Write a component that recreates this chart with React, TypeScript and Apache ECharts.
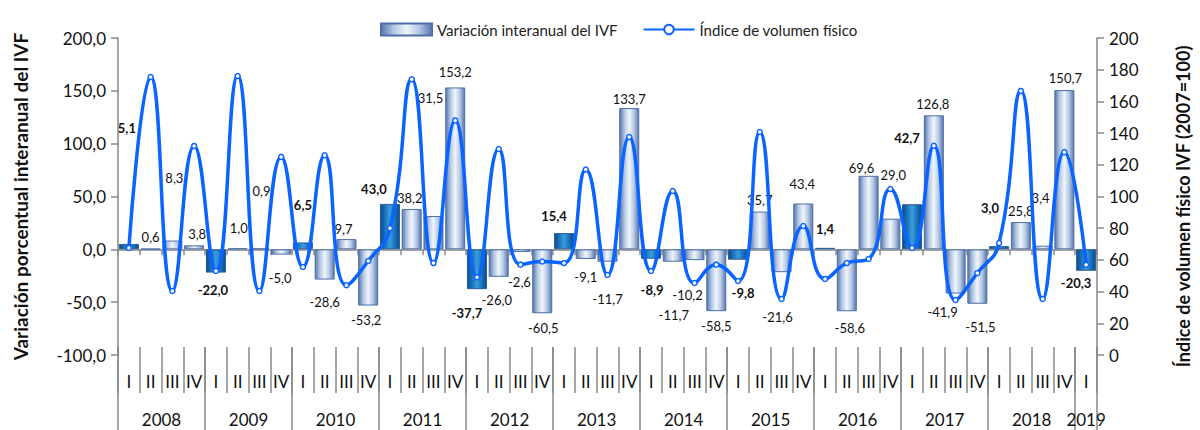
import React, { useEffect, useRef } from "react";
import * as echarts from "echarts";

const quarters = [
  "I", "II", "III", "IV", "I", "II", "III", "IV", "I", "II", "III", "IV",
  "I", "II", "III", "IV", "I", "II", "III", "IV", "I", "II", "III", "IV",
  "I", "II", "III", "IV", "I", "II", "III", "IV", "I", "II", "III", "IV",
  "I", "II", "III", "IV", "I", "II", "III", "IV", "I",
];

const years = ["2008", "2009", "2010", "2011", "2012", "2013", "2014", "2015", "2016", "2017", "2018", "2019"];
const quartersPerYear = [4, 4, 4, 4, 4, 4, 4, 4, 4, 4, 4, 1];

// Variación interanual del IVF (%)
const ivfChange = [
  5.1, 0.6, 8.3, 3.8,
  -22.0, 1.0, 0.9, -5.0,
  6.5, -28.6, 9.7, -53.2,
  43.0, 38.2, 31.5, 153.2,
  -37.7, -26.0, -2.6, -60.5,
  15.4, -9.1, -11.7, 133.7,
  -8.9, -11.7, -10.2, -58.5,
  -9.8, 35.7, -21.6, 43.4,
  1.4, -58.6, 69.6, 29.0,
  42.7, 126.8, -41.9, -51.5,
  3.0, 25.8, 3.4, 150.7,
  -20.3,
];

// Índice de volumen físico (2007=100)
const ivfIndex = [
  67.5, 175.4, 40.4, 131.9,
  53.0, 176.0, 40.4, 125.0,
  55.5, 126.0, 44.0, 59.3,
  80.0, 174.0, 58.0, 148.0,
  49.0, 130.0, 57.0, 59.0,
  58.0, 117.0, 50.5, 137.5,
  53.0, 103.5, 45.4, 57.0,
  46.7, 140.7, 35.3, 81.4,
  48.0, 58.0, 60.6, 104.7,
  67.5, 132.0, 34.7, 51.7,
  70.7, 166.6, 35.3, 128.0,
  57.0,
];

// label nudges (px) relative to the default top/bottom label place
const labelOffsets = [
  [-2, -104], [0, 0], [2, -51], [3, 0],
  [-3, 6], [1, -9], [2, -46], [-1, 12],
  [0, -26], [0, 11], [-3, 1], [-2, 3],
  [-16, -3], [-2, 1], [-3, -107], [0, -4],
  [-10, 12], [-2, 12], [-1, 18], [1, 3],
  [-10, -6], [0, 7], [0, 26], [0, 2],
  [1, 20], [1, 42], [-7, 23], [0, 3],
  [5, 22], [0, 0], [-4, 33], [-1, -8],
  [0, -7], [3, 5], [-7, 4], [3, -32],
  [-5, -55], [-1, 0], [-13, 7], [3, 12],
  [-9, -27], [0, 0], [-2, -36], [1, -1],
  [-10, 1],
];

const FONT = "Lato, 'Open Sans', sans-serif";
const fmt = (v: number) => v.toFixed(1).replace(".", ",");

export default function App() {
  const ref = useRef<HTMLDivElement>(null);

  useEffect(() => {
    if (!ref.current) return;
    const chart = echarts.init(ref.current, null, { renderer: "svg" });

    const normalBar = new echarts.graphic.LinearGradient(0, 0, 1, 0, [
      { offset: 0, color: "#5676ad" },
      { offset: 0.25, color: "#b3c7e3" },
      { offset: 0.5, color: "#f0f5fb" },
      { offset: 0.75, color: "#b3c7e3" },
      { offset: 1, color: "#5676ad" },
    ]);
    const q1Bar = new echarts.graphic.LinearGradient(0, 0, 1, 0, [
      { offset: 0, color: "#0b4a8e" },
      { offset: 0.3, color: "#1f7cc4" },
      { offset: 0.5, color: "#3c9ddc" },
      { offset: 0.7, color: "#1f7cc4" },
      { offset: 1, color: "#0b4a8e" },
    ]);

    const barData = ivfChange.map((v, i) => {
      const q1 = i % 4 === 0;
      const off = labelOffsets[i];
      return {
        value: v,
        itemStyle: q1 ? { color: q1Bar, borderColor: "#2a5d9a" } : undefined,
        label: {
          position: v >= 0 ? "top" : "bottom",
          offset: [off[0], off[1]],
          fontWeight: q1 ? "bold" : "normal",
        },
      };
    });

    // year axis: half-quarter positions, boundaryGap false
    const totalHalf = quarters.length * 2;
    const yearAxisData: string[] = new Array(totalHalf + 1).fill("");
    const yearBounds: number[] = [0];
    let pos = 0;
    years.forEach((y, k) => {
      const n = quartersPerYear[k];
      yearAxisData[pos * 2 + n] = y;
      pos += n;
      yearBounds.push(pos * 2);
    });

    chart.setOption({
      animation: false,
      textStyle: { fontFamily: FONT },
      legend: {
        left: 375,
        top: 17,
        itemWidth: 51,
        itemHeight: 12,
        itemGap: 25,
        textStyle: { fontFamily: FONT, fontSize: 15, color: "#222" },
        data: [
          { name: "Variación interanual del IVF", icon: "rect" },
          { name: "Índice de volumen físico" },
        ],
      },
      grid: { left: 118, right: 95, top: 38, bottom: 75, containLabel: false },
      xAxis: [
        {
          type: "category",
          data: quarters,
          position: "bottom",
          axisLine: { show: true, onZero: true, onZeroAxisIndex: 0, lineStyle: { color: "#888", width: 1.5 } },
          axisTick: { show: true, length: 6, lineStyle: { color: "#888", width: 1.5 } },
          axisLabel: { show: false },
          splitLine: { show: false },
        },
        {
          type: "category",
          data: quarters,
          position: "bottom",
          offset: -8,
          axisLine: { show: false, onZero: false },
          axisTick: { show: true, length: 46, lineStyle: { color: "#888", width: 1.5 } },
          axisLabel: { show: true, interval: 0, margin: 26, fontSize: 17, color: "#111", fontFamily: FONT },
          splitLine: { show: false },
        },
        {
          type: "category",
          data: yearAxisData,
          boundaryGap: false,
          position: "bottom",
          offset: -8,
          axisLine: { show: false, onZero: false },
          axisTick: {
            show: true,
            length: 86,
            interval: (index: number) => yearBounds.indexOf(index) >= 0,
            lineStyle: { color: "#888", width: 1.5 },
          },
          axisLabel: { show: true, interval: 0, margin: 64, fontSize: 17, color: "#111", fontFamily: FONT },
          splitLine: { show: false },
        },
      ],
      yAxis: [
        {
          type: "value",
          position: "left",
          min: -100,
          max: 200,
          interval: 50,
          name: "Variación porcentual interanual del IVF",
          nameLocation: "middle",
          nameRotate: 90,
          nameGap: 88,
          nameTextStyle: { fontFamily: FONT, fontSize: 19, fontWeight: "bold", color: "#111" },
          axisLine: { show: true, lineStyle: { color: "#888", width: 1.5 } },
          axisTick: { show: true, length: 7, lineStyle: { color: "#888", width: 1.5 } },
          axisLabel: { formatter: (v: number) => fmt(v), fontSize: 17, color: "#111", margin: 12, fontFamily: FONT },
          splitLine: { show: false },
        },
        {
          type: "value",
          position: "right",
          min: 0,
          max: 200,
          interval: 20,
          name: "Índice de volumen físico IVF (2007=100)",
          nameLocation: "middle",
          nameRotate: 90,
          nameGap: 77,
          nameTextStyle: {
            fontFamily: FONT,
            fontSize: 18,
            fontWeight: "bold",
            color: "#111",
            padding: [0, 20, 0, 0],
          },
          axisLine: { show: true, lineStyle: { color: "#888", width: 1.5 } },
          axisTick: { show: true, length: 7, lineStyle: { color: "#888", width: 1.5 } },
          axisLabel: { fontSize: 17, color: "#111", margin: 12, fontFamily: FONT },
          splitLine: { show: false },
        },
      ],
      series: [
        {
          name: "Variación interanual del IVF",
          type: "bar",
          xAxisIndex: 0,
          yAxisIndex: 0,
          barCategoryGap: "8%",
          z: 2,
          itemStyle: { color: normalBar, borderColor: "#4d6fa6", borderWidth: 1 },
          label: {
            show: true,
            formatter: (p: any) => fmt(p.value),
            fontSize: 13,
            color: "#111",
            fontFamily: FONT,
          },
          data: barData,
        },
        {
          name: "Índice de volumen físico",
          type: "line",
          xAxisIndex: 0,
          yAxisIndex: 1,
          smooth: 0.5,
          z: 3,
          symbol: "circle",
          symbolSize: 5,
          lineStyle: { color: "#0a64ff", width: 3.5 },
          itemStyle: { color: "#ffffff", borderColor: "#0a64ff", borderWidth: 1.5 },
          data: ivfIndex,
        },
      ],
    });

    return () => chart.dispose();
  }, []);

  return (
    <div
      ref={ref}
      style={{ position: "fixed", left: 0, top: 0, width: 1200, height: 430, background: "#fff" }}
    />
  );
}
